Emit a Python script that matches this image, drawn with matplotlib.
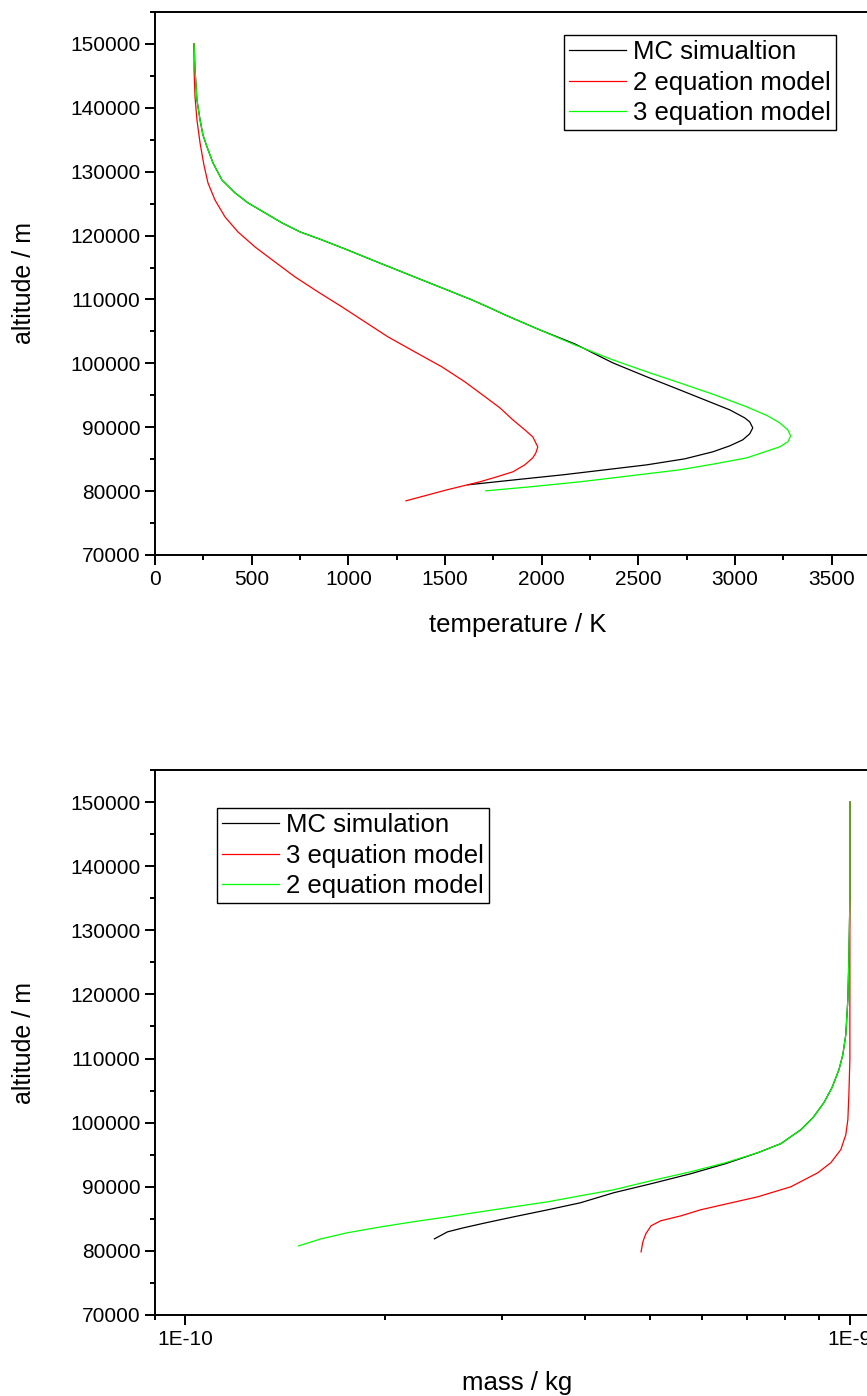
import numpy as np
import matplotlib.pyplot as plt
from matplotlib.ticker import MultipleLocator, FixedLocator, NullFormatter, FuncFormatter

plt.rcParams['font.family'] = ['Liberation Sans', 'DejaVu Sans']

# top panel: temperature / K vs altitude / m
eq3_T = [202, 207, 217, 233, 248, 269, 300, 346, 414, 481, 569, 657, 750, 863, 982, 1122,
         1251, 1380, 1510, 1639, 1732, 1810, 1990, 2171, 2368, 2544, 2714, 2895, 3061, 3169,
         3231, 3273, 3288, 3273, 3231, 3154, 3061, 2895, 2714, 2456, 2197, 1939, 1711]
eq3_T_alt = [150000, 145931, 141236, 138106, 135759, 133881, 131377, 128716, 126682, 125117,
             123552, 121987, 120578, 119326, 117918, 116196, 114631, 113066, 111501, 109936,
             108684, 107589, 105241, 102894, 100546, 98668, 96947, 95069, 93190, 91782, 90686,
             89591, 88652, 87713, 86930, 86148, 85209, 84270, 83331, 82392, 81453, 80671, 80045]

mc_T = [202, 207, 217, 233, 248, 269, 300, 346, 414, 481, 569, 657, 750, 863, 982, 1122,
        1251, 1380, 1510, 1639, 1732, 1810, 1990, 2171, 2368, 2544, 2714, 2869, 2973, 3050,
        3076, 3092, 3076, 3040, 2973, 2885, 2740, 2544, 2327, 2109, 1861, 1618]
mc_T_alt = [150000, 145931, 141236, 138106, 135759, 133881, 131377, 128716, 126682, 125117,
            123552, 121987, 120578, 119326, 117918, 116196, 114631, 113066, 111501, 109936,
            108684, 107589, 105241, 103050, 100077, 97886, 95851, 93973, 92721, 91469, 90843,
            89904, 88965, 88026, 87087, 86148, 85053, 84114, 83331, 82549, 81767, 80984]

eq2_T = [202, 202, 207, 217, 233, 253, 274, 310, 362, 429, 517, 620, 724, 843, 967, 1086,
         1205, 1344, 1484, 1603, 1701, 1784, 1851, 1913, 1954, 1980, 1970, 1954, 1913, 1851,
         1768, 1680, 1510, 1298]
eq2_T_alt = [150000, 145931, 141706, 138106, 134507, 131064, 128247, 125586, 122926, 120578,
             118231, 115883, 113536, 111188, 108841, 106493, 104146, 101798, 99451, 97103,
             94912, 93034, 91156, 89591, 88495, 86930, 85991, 85209, 84114, 83018, 82236,
             81453, 80201, 78480]

# bottom panel: mass / kg vs altitude / m
eq2_m = [1.0e-9, 1.0e-9, 9.965e-10, 9.93e-10, 9.86e-10, 9.76e-10, 9.63e-10, 9.40e-10, 9.14e-10,
         8.80e-10, 8.44e-10, 7.87e-10, 7.27e-10, 6.50e-10, 5.76e-10, 5.02e-10, 4.41e-10,
         3.93e-10, 3.51e-10, 3.12e-10, 2.78e-10, 2.48e-10, 2.20e-10, 1.97e-10, 1.75e-10,
         1.60e-10, 1.48e-10]
eq2_m_alt = [150000, 134844, 125469, 119219, 113750, 110625, 108281, 105469, 103125, 100781,
             98906, 96719, 95313, 93750, 92344, 90938, 89531, 88594, 87656, 86875, 86094,
             85313, 84531, 83750, 82813, 81875, 80781]

mc_m = [1.0e-9, 1.0e-9, 9.965e-10, 9.93e-10, 9.86e-10, 9.76e-10, 9.63e-10, 9.40e-10, 9.14e-10,
        8.80e-10, 8.44e-10, 7.87e-10, 7.27e-10, 6.50e-10, 5.76e-10, 5.02e-10, 4.41e-10,
        3.93e-10, 3.51e-10, 3.12e-10, 2.83e-10, 2.62e-10, 2.48e-10, 2.37e-10]
mc_m_alt = [150000, 134844, 125469, 119219, 113750, 110625, 108281, 105469, 103125, 100781,
            98906, 96719, 95313, 93600, 92031, 90469, 89063, 87500, 86406, 85313, 84375,
            83594, 82969, 81875]

eq3_m = [1.0e-9, 1.0e-9, 1.0e-9, 9.965e-10, 9.93e-10, 9.86e-10, 9.69e-10, 9.36e-10, 8.95e-10,
         8.15e-10, 7.27e-10, 5.96e-10, 5.57e-10, 5.19e-10, 5.02e-10, 4.93e-10, 4.88e-10, 4.85e-10]
eq3_m_alt = [150000, 119219, 109844, 104375, 100469, 98125, 95781, 93750, 92188, 90000, 88438,
             86406, 85469, 84688, 83906, 82656, 81406, 79844]

green = '#00ff00'
red = '#ff0000'

fig = plt.figure(figsize=(8.67, 13.96), dpi=100)
ax1 = fig.add_axes([155/867, 1-555/1396, 725/867, 543/1396])
ax2 = fig.add_axes([155/867, 1-1315/1396, 725/867, 545/1396])

ax1.plot(mc_T, mc_T_alt, color='black', lw=0.9, label='MC simualtion')
ax1.plot(eq2_T, eq2_T_alt, color=red, lw=0.9, label='2 equation model')
ax1.plot(eq3_T, eq3_T_alt, color=green, lw=0.9, label='3 equation model')

ax2.plot(mc_m, mc_m_alt, color='black', lw=0.9, label='MC simulation')
ax2.plot(eq3_m, eq3_m_alt, color=red, lw=0.9, label='3 equation model')
ax2.plot(eq2_m, eq2_m_alt, color=green, lw=0.9, label='2 equation model')

ax1.set_xlim(0, 3750)
ax1.xaxis.set_major_locator(MultipleLocator(500))
ax1.xaxis.set_minor_locator(MultipleLocator(250))

ax2.set_xscale('log')
ax2.set_xlim(9e-11, 1.11e-9)
ax2.xaxis.set_major_locator(FixedLocator([1e-10, 1e-9]))
ax2.xaxis.set_minor_locator(FixedLocator([9e-11] + [k * 1e-10 for k in range(2, 10)]))
ax2.xaxis.set_major_formatter(FuncFormatter(lambda v, p: '1E%d' % round(np.log10(v))))
ax2.xaxis.set_minor_formatter(NullFormatter())

for ax in (ax1, ax2):
    ax.set_ylim(70000, 155000)
    ax.yaxis.set_major_locator(MultipleLocator(10000))
    ax.yaxis.set_minor_locator(MultipleLocator(5000))
    ax.tick_params(which='both', direction='out', width=1.4, labelsize=15,
                   top=False, right=False)
    ax.tick_params(which='major', length=7)
    ax.tick_params(which='minor', length=3.6)
    for s in ax.spines.values():
        s.set_linewidth(1.4)
    ax.set_ylabel('altitude / m', fontsize=18)
    ax.yaxis.set_label_coords(-0.181, 0.5)
    ax.yaxis.label.set_va('center')

ax1.set_xlabel('temperature / K', fontsize=18.5)
ax1.xaxis.set_label_coords(0.5, -0.129)
ax1.xaxis.label.set_va('center')
ax2.set_xlabel('mass / kg', fontsize=18.5)
ax2.xaxis.set_label_coords(0.5, -0.125)
ax2.xaxis.label.set_va('center')

leg_kw = dict(loc='upper left', bbox_transform=fig.transFigure, borderaxespad=0,
              fancybox=False, framealpha=1, edgecolor='black', fontsize=18.5,
              handlelength=2.2, handletextpad=0.3, borderpad=0.2, labelspacing=0.25)
l1 = ax1.legend(bbox_to_anchor=(564/867, 1-35/1396), **leg_kw)
l2 = ax2.legend(bbox_to_anchor=(217/867, 1-808/1396), **leg_kw)
for lg in (l1, l2):
    lg.get_frame().set_linewidth(1.0)

fig.savefig('out.png', dpi=100)
